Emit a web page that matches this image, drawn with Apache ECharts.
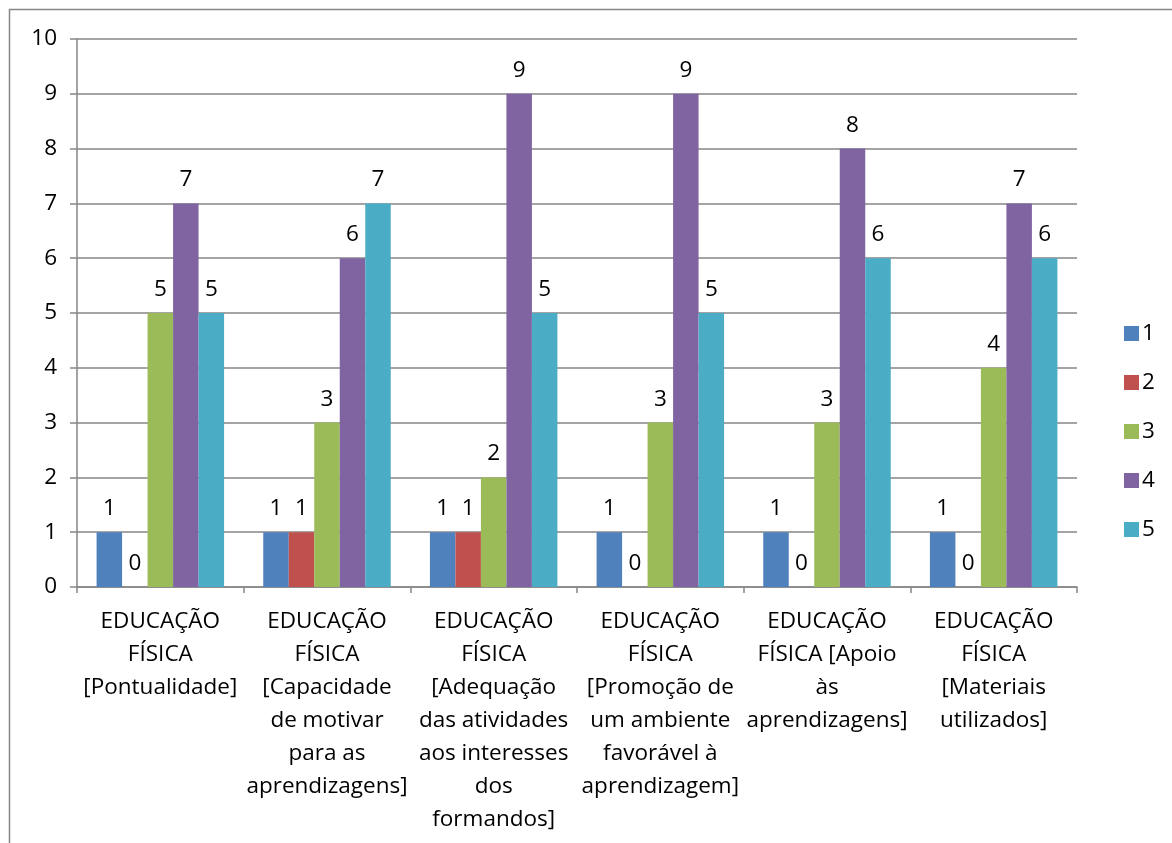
<!DOCTYPE html>
<html>
<head>
<meta charset="utf-8">
<script src="https://cdn.jsdelivr.net/npm/echarts@6/dist/echarts.min.js"></script>
<style>
html,body{margin:0;padding:0;background:#fff;}
#chart{width:1172px;height:843px;}
</style>
</head>
<body>
<div id="chart"></div>
<script>
const categories = [
  "EDUCAÇÃO\nFÍSICA\n[Pontualidade]",
  "EDUCAÇÃO\nFÍSICA\n[Capacidade\nde motivar\npara as\naprendizagens]",
  "EDUCAÇÃO\nFÍSICA\n[Adequação\ndas atividades\naos interesses\ndos\nformandos]",
  "EDUCAÇÃO\nFÍSICA\n[Promoção de\num ambiente\nfavorável à\naprendizagem]",
  "EDUCAÇÃO\nFÍSICA [Apoio\nàs\naprendizagens]",
  "EDUCAÇÃO\nFÍSICA\n[Materiais\nutilizados]"
];
const seriesNames = ["1", "2", "3", "4", "5"];
const values1 = [1, 1, 1, 1, 1, 1];
const values2 = [0, 1, 1, 0, 0, 0];
const values3 = [5, 3, 2, 3, 3, 4];
const values4 = [7, 6, 9, 9, 8, 7];
const values5 = [5, 7, 5, 5, 6, 6];
const yTicks = [0, 1, 2, 3, 4, 5, 6, 7, 8, 9, 10];
const colors = ["#4F81BD", "#C0504D", "#9BBB59", "#8064A2", "#4BACC6"];

const allValues = [values1, values2, values3, values4, values5];
const FONT = "Open Sans";
const FS = 22.5;
const chart = echarts.init(document.getElementById('chart'), null, {renderer: 'canvas'});
chart.setOption({
  animation: false,
  backgroundColor: '#fff',
  textStyle: {fontFamily: FONT},
  graphic: [{
    type: 'rect',
    shape: {x: 9.5, y: 9.5, width: 1300, height: 1000},
    style: {fill: 'none', stroke: '#868686', lineWidth: 1.5},
    silent: true,
    z: -10
  }],
  grid: {left: 77, top: 39, right: 95, bottom: 256, containLabel: false},
  legend: {
    orient: 'vertical',
    left: 1119,
    top: 317,
    itemWidth: 15,
    itemHeight: 15,
    itemGap: 26,
    icon: 'rect',
    data: seriesNames,
    textStyle: {fontFamily: FONT, fontSize: FS, color: '#000', padding: [0, 0, 0, -2]}
  },
  xAxis: {
    type: 'category',
    data: categories,
    axisLine: {show: true, lineStyle: {color: '#868686', width: 1.5}},
    axisTick: {show: true, length: 6, lineStyle: {color: '#868686', width: 1.5}},
    axisLabel: {
      interval: 0,
      margin: 18,
      fontFamily: FONT,
      fontSize: FS,
      lineHeight: 33,
      color: '#000',
      align: 'center'
    }
  },
  yAxis: {
    type: 'value',
    min: 0,
    max: 10,
    interval: 1,
    axisLine: {show: true, lineStyle: {color: '#868686', width: 1.5}},
    axisTick: {show: true, length: 7, lineStyle: {color: '#868686', width: 1.5}},
    splitLine: {show: true, lineStyle: {color: '#868686', width: 1.5}},
    axisLabel: {
      margin: 20,
      fontFamily: FONT,
      fontSize: FS,
      color: '#000',
      formatter: function (v) { return yTicks.indexOf(v) >= 0 ? String(v) : ''; }
    }
  },
  series: seriesNames.map(function (name, i) {
    return {
      name: name,
      type: 'bar',
      data: allValues[i],
      barGap: '0%',
      barCategoryGap: '23.5%',
      itemStyle: {color: colors[i]},
      label: {
        show: true,
        position: 'top',
        distance: 12,
        fontFamily: FONT,
        fontSize: FS,
        color: '#000'
      }
    };
  })
});
</script>
</body>
</html>
